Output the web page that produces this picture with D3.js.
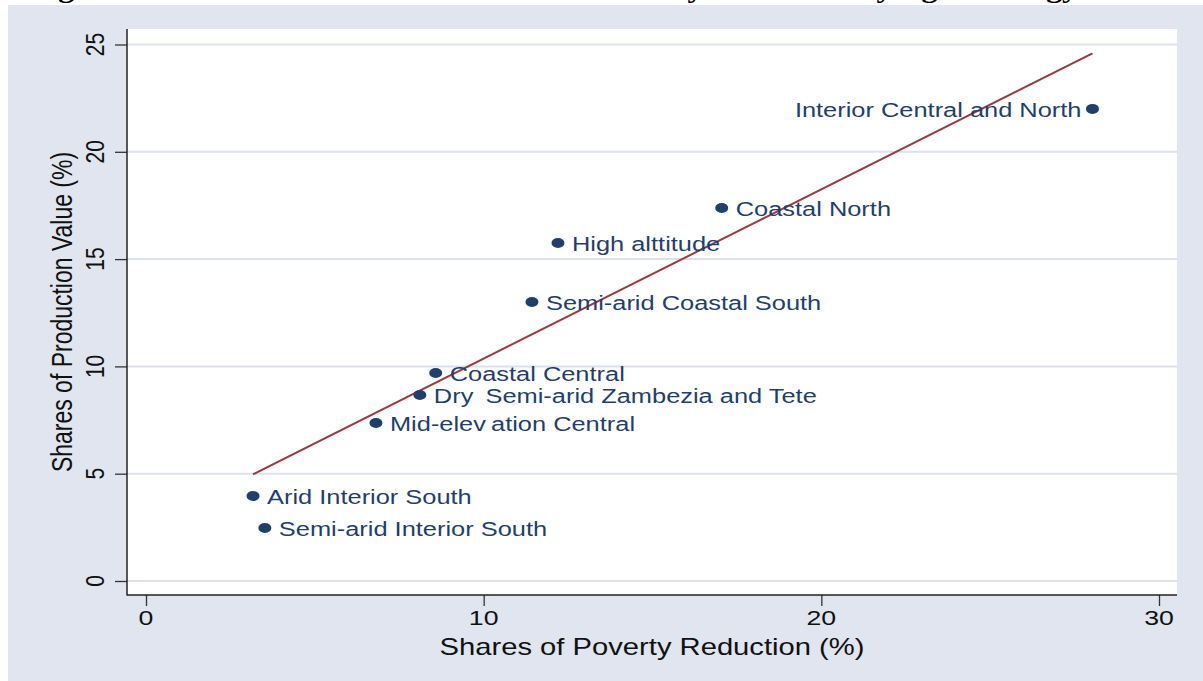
<!DOCTYPE html>
<html><head><meta charset="utf-8">
<script src="https://cdn.jsdelivr.net/npm/d3@7"></script>
<style>html,body{margin:0;padding:0;background:#fff;overflow:hidden}</style>
</head><body>
<svg id="chart" width="1203" height="681"></svg>
<script>
// ---- data ----
const regions = ["Interior Central and North","Coastal North","High alttitude","Semi-arid Coastal South","Coastal Central","Dry \u2009Semi-arid Zambezia and Tete","Mid-elev\u2009ation Central","Arid Interior South","Semi-arid Interior South"];
const povertyShare = [28.03, 17.05, 12.2, 11.43, 8.58, 8.11, 6.81, 3.17, 3.52];
const productionShare = [22.0, 17.38, 15.75, 13.0, 9.69, 8.67, 7.36, 3.96, 2.47];
const labelSide = ["left","right","right","right","right","right","right","right","right"];
const xTicks = [0, 10, 20, 30];
const yTicks = [0, 5, 10, 15, 20, 25];
const titleText = "Figure 5: Shares of Production Value and Poverty Reduction by Agro-ecology";
const xTitle = "Shares of Poverty Reduction (%)";
const yTitle = "Shares of Production Value (%)";

// ---- layout ----
const SX = 1.27; // horizontal stretch of the original rendering
const svg = d3.select("#chart");
const plot = {l:127, r:1177, t:29, b:595};
const x = d3.scaleLinear().domain([0,30]).range([146,1159]);
const y = d3.scaleLinear().domain([0,25]).range([581,44.5]);
const navy = "#1f3f6e", maroon = "#983a3f", bg = "#e0e5ef", grid = "#dbe2ee";

svg.append("rect").attr("x",8).attr("y",5).attr("width",1195).attr("height",676).attr("fill",bg);
svg.append("rect").attr("x",plot.l).attr("y",plot.t).attr("width",plot.r-plot.l).attr("height",plot.b-plot.t).attr("fill","#fff");

// cut-off title at the very top (only descenders visible, as in the reference)
svg.append("text").attr("x",30).attr("y",-2)
  .attr("font-family","Liberation Serif, Times New Roman, serif").attr("font-weight","bold")
  .attr("font-size",26).attr("textLength",1048).attr("lengthAdjust","spacingAndGlyphs")
  .attr("fill","#000").text(titleText);

// gridlines
svg.append("g").selectAll("line").data(yTicks).join("line")
  .attr("x1",plot.l).attr("x2",plot.r).attr("y1",d=>y(d)).attr("y2",d=>y(d))
  .attr("stroke",grid).attr("stroke-width",2);

// axes
const yAxis = d3.axisLeft(y).tickValues(yTicks).tickSize(12).tickFormat("");
const gy = svg.append("g").attr("transform",`translate(${plot.l},0)`).call(yAxis);
gy.select(".domain").remove();
gy.selectAll("line").attr("stroke","#333").attr("stroke-width",1.3);
const xAxis = d3.axisBottom(x).tickValues(xTicks).tickSize(11).tickFormat("");
const gx = svg.append("g").attr("transform",`translate(0,${plot.b})`).call(xAxis);
gx.select(".domain").remove();
gx.selectAll("line").attr("stroke","#333").attr("stroke-width",1.3);
svg.append("line").attr("x1",plot.l).attr("x2",plot.l).attr("y1",plot.t).attr("y2",plot.b+0.5).attr("stroke","#222").attr("stroke-width",1.5);
svg.append("line").attr("x1",plot.l).attr("x2",plot.r).attr("y1",plot.b).attr("y2",plot.b).attr("stroke","#222").attr("stroke-width",1.5);

const font = "Liberation Sans, Arial, Helvetica, sans-serif";
// y tick labels
svg.append("g").selectAll("text").data(yTicks).join("text")
  .attr("transform",d=>`translate(104,${y(d)}) scale(${SX},1) rotate(-90)`)
  .attr("text-anchor","middle").attr("font-family",font).attr("font-size",21).attr("fill","#111")
  .text(d=>d);
// x tick labels
svg.append("g").selectAll("text").data(xTicks).join("text")
  .attr("transform",d=>`translate(${x(d)},625) scale(${SX},1)`)
  .attr("text-anchor","middle").attr("font-family",font).attr("font-size",21).attr("fill","#111")
  .text(d=>d);
// axis titles
svg.append("text").attr("transform",`translate(${(plot.l+plot.r)/2},655) scale(${SX},1)`)
  .attr("text-anchor","middle").attr("font-family",font).attr("font-size",23).attr("fill","#111").text(xTitle);
svg.append("text").attr("transform",`translate(72,${(plot.t+plot.b)/2}) scale(${SX},1) rotate(-90)`)
  .attr("text-anchor","middle").attr("font-family",font).attr("font-size",23).attr("fill","#111").text(yTitle);

// fitted regression line (OLS computed from the data)
const n = povertyShare.length;
const mx = d3.mean(povertyShare), my = d3.mean(productionShare);
let sxy = 0, sxx = 0;
for (let i=0;i<n;i++){ sxy += (povertyShare[i]-mx)*(productionShare[i]-my); sxx += (povertyShare[i]-mx)**2; }
const slope = sxy/sxx, icpt = my - slope*mx;
const [xmin,xmax] = d3.extent(povertyShare);
const fit = [xmin, xmax].map(v=>[v, icpt+slope*v]);
svg.append("path").datum(fit)
  .attr("d", d3.line().x(d=>x(d[0])).y(d=>y(d[1])))
  .attr("fill","none").attr("stroke",maroon).attr("stroke-width",2);

// points
const pts = regions.map((r,i)=>({r, px:povertyShare[i], py:productionShare[i], side:labelSide[i]}));
svg.append("g").selectAll("ellipse").data(pts).join("ellipse")
  .attr("cx",d=>x(d.px)).attr("cy",d=>y(d.py)).attr("rx",6.5).attr("ry",5).attr("fill",navy);
// labels
svg.append("g").selectAll("text").data(pts).join("text")
  .attr("transform",d=>`translate(${d.side==="left"? x(d.px)-11 : x(d.px)+14},${y(d.py)+8}) scale(${SX},1)`)
  .attr("text-anchor",d=>d.side==="left"?"end":"start")
  .attr("font-family",font).attr("font-size",20).attr("fill",navy)
  .style("white-space","pre").attr("xml:space","preserve")
  .text(d=>d.r);
</script>
</body></html>
